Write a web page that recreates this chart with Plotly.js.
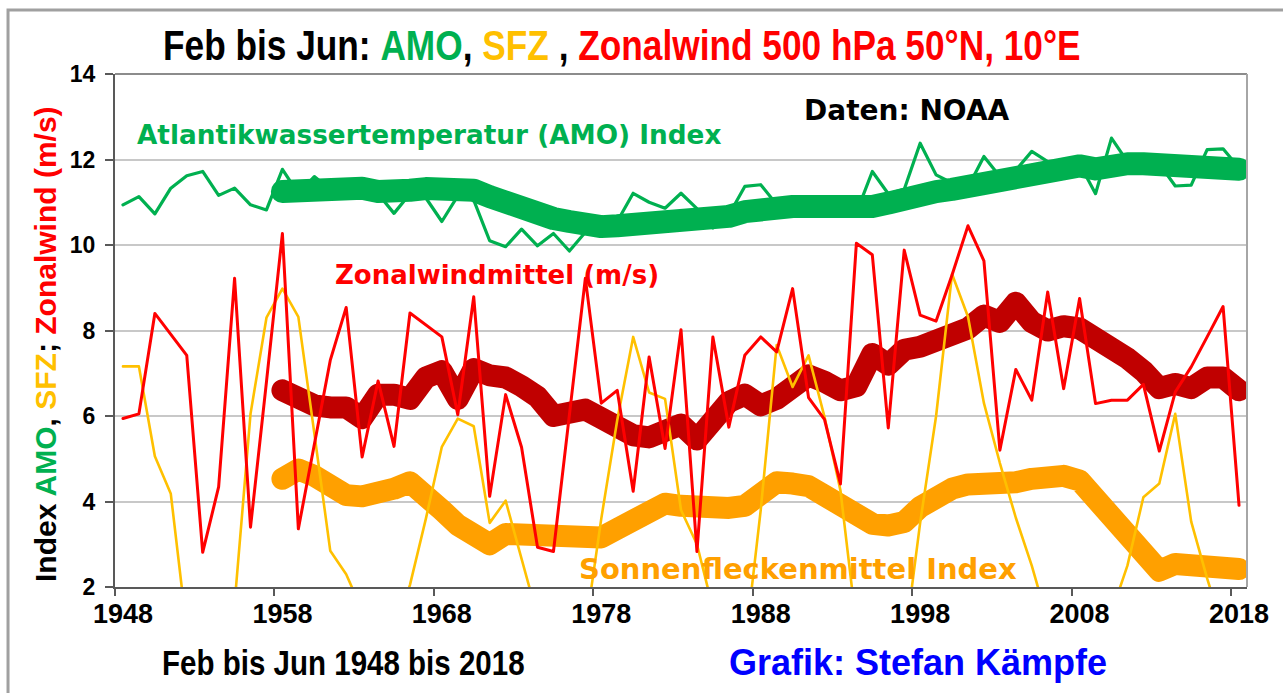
<!DOCTYPE html>
<html>
<head>
<meta charset="utf-8">
<script src="https://cdn.plot.ly/plotly-3.0.1.min.js"></script>
<style>
  html, body { margin: 0; padding: 0; background: #ffffff; }
  #chart { width: 1283px; height: 693px; }
  .scatterlayer .js-line { stroke-linejoin: round; stroke-linecap: round; }
  /* narrow (condensed) lettering like the original */
  .gtitle { transform-box: fill-box; transform-origin: 0% 50%; transform: scaleX(0.82); }
  .annotation[data-index="4"] .annotation-text { transform-box: fill-box; transform-origin: 0% 50%; transform: scaleX(0.82); }
</style>
</head>
<body>
<div id="chart"></div>
<script>
// ---- Data ----
const years = [1948,1949,1950,1951,1952,1953,1954,1955,1956,1957,
  1958,1959,1960,1961,1962,1963,1964,1965,1966,1967,
  1968,1969,1970,1971,1972,1973,1974,1975,1976,1977,
  1978,1979,1980,1981,1982,1983,1984,1985,1986,1987,
  1988,1989,1990,1991,1992,1993,1994,1995,1996,1997,
  1998,1999,2000,2001,2002,2003,2004,2005,2006,2007,
  2008,2009,2010,2011,2012,2013,2014,2015,2016,2017,2018];

// AMO index (thin green)
const amo = [10.94,11.13,10.73,11.33,11.62,11.72,11.16,11.33,10.94,10.82,
  11.77,11.2,11.6,11.3,11.4,11.2,11.2,10.74,11.2,11.1,
  10.55,11.15,11.05,10.1,9.96,10.37,9.98,10.27,9.86,10.3,
  10.4,10.55,11.21,11.0,10.86,11.21,10.85,10.4,10.7,11.37,
  11.41,10.95,10.9,10.95,10.85,10.9,10.75,11.72,11.2,11.3,
  12.38,11.64,11.45,11.35,12.07,11.6,11.75,12.19,11.95,11.95,
  11.9,11.2,12.5,11.95,11.9,11.9,11.38,11.4,12.23,12.25,11.8];

// AMO smoothed (thick green), from 1958
const amoMean = [null,null,null,null,null,null,null,null,null,null,
  11.25,11.28,11.32,11.33,11.36,11.33,11.25,11.2,11.28,11.32,
  11.32,11.28,11.28,11.13,10.98,10.86,10.74,10.62,10.55,10.47,
  10.43,10.45,10.47,10.48,10.55,10.6,10.66,10.64,10.67,10.78,
  10.86,10.9,10.9,10.9,10.9,10.86,10.8,10.9,10.98,11.1,
  11.2,11.25,11.3,11.38,11.45,11.52,11.62,11.72,11.8,11.83,
  11.85,11.78,11.88,11.9,11.9,11.88,11.85,11.82,11.8,11.8,11.77];

// Zonal wind 500 hPa (thin red)
const wind = [5.94,6.05,8.4,7.9,7.42,2.81,4.34,9.22,3.4,6.8,
  10.27,3.36,5.3,7.3,8.54,5.04,6.82,5.29,8.41,8.13,
  7.85,6.03,8.79,4.12,6.5,5.27,2.93,2.83,6.1,9.22,
  6.3,6.6,4.24,7.38,5.24,8.02,2.83,7.85,5.74,7.42,
  7.85,7.5,8.98,6.43,5.92,4.41,10.04,9.77,5.72,9.88,
  8.36,8.22,9.3,10.45,9.63,5.2,7.09,6.37,8.9,6.64,
  8.75,6.29,6.37,6.37,6.74,5.18,6.56,7.15,7.85,8.56,3.91];

// Zonal wind smoothed (thick dark red), from 1958
const windMean = [null,null,null,null,null,null,null,null,null,null,
  6.6,6.4,6.25,6.2,6.2,5.95,6.5,6.5,6.4,6.9,
  7.05,6.4,7.1,6.95,6.9,6.7,6.45,6.0,6.1,6.15,
  5.95,5.75,5.55,5.5,5.65,5.8,5.45,6.0,6.33,6.5,
  6.25,6.4,6.65,6.95,6.8,6.6,6.7,7.45,7.2,7.55,
  7.62,7.73,7.9,8.05,8.35,8.2,8.65,8.2,8.0,8.1,
  8.05,7.85,7.6,7.35,7.05,6.65,6.75,6.65,6.9,6.9,6.6];

// Sunspot index SFZ (thin yellow)
const sfz = [7.16,7.16,5.06,4.18,1.0,0.5,0.4,1.6,6.05,8.3,
  8.98,8.32,5.6,2.85,2.3,1.45,0.5,0.8,2.05,3.6,
  5.28,5.94,5.76,3.5,4.02,2.7,1.3,0.8,0.6,1.0,
  3.6,5.9,7.85,6.55,6.4,3.8,3.0,1.5,0.6,0.55,
  3.8,7.66,6.68,7.42,5.98,4.26,1.1,0.6,0.3,0.6,
  3.5,6.0,9.32,8.32,6.3,4.9,3.62,2.5,1.2,0.6,
  0.3,0.3,1.4,2.5,4.1,4.42,6.05,3.53,2.2,1.0,0.6];

// Sunspot smoothed (thick orange), from 1958
const sfzMean = [null,null,null,null,null,null,null,null,null,null,
  4.53,4.75,4.6,4.38,4.15,4.12,4.15,4.3,4.45,4.2,
  3.8,3.45,3.18,3.0,3.24,3.24,3.24,3.2,3.2,3.13,
  3.16,3.36,3.55,3.71,3.95,3.9,3.85,3.85,3.85,3.9,
  4.18,4.45,4.42,4.36,4.14,3.87,3.65,3.48,3.44,3.52,
  3.87,4.1,4.3,4.4,4.38,4.41,4.45,4.53,4.57,4.6,
  4.49,4.06,3.55,3.05,2.7,2.38,2.54,2.54,2.54,2.46,2.42];

const xTickVals = [1948,1958,1968,1978,1988,1998,2008,2018];
const xTickText = ['1948','1958','1968','1978','1988','1998','2008','2018'];
const xTickMarks = [1947.5,1957.5,1967.5,1977.5,1987.5,1997.5,2007.5,2017.5];
const yTickVals = [2,4,6,8,10,12,14];

// ---- Styles ----
const GREEN = '#00B050', YELLOW = '#FFC000', RED = '#FF0000',
      DARKRED = '#C00000', ORANGE = '#FFA000', BLUE = '#0000FF';
const ARIAL = '"Liberation Sans", Arial, sans-serif';
const HEAVY = '"DejaVu Sans", "Liberation Sans", Arial, sans-serif';

const traces = [
  {x: years, y: sfzMean, mode: 'lines', line: {color: ORANGE, width: 22}, hoverinfo: 'skip'},
  {x: years, y: windMean, mode: 'lines', line: {color: DARKRED, width: 22}, hoverinfo: 'skip'},
  {x: years, y: sfz, mode: 'lines', line: {color: YELLOW, width: 2.6}, hoverinfo: 'skip'},
  {x: years, y: wind, mode: 'lines', line: {color: RED, width: 3}, hoverinfo: 'skip'},
  {x: years, y: amo, mode: 'lines', line: {color: GREEN, width: 3.2}, hoverinfo: 'skip'},
  {x: years, y: amoMean, mode: 'lines', line: {color: GREEN, width: 23}, hoverinfo: 'skip'}
];

const layout = {
  width: 1283, height: 693,
  margin: {l: 115, r: 36, t: 74, b: 106, pad: 0},
  paper_bgcolor: '#ffffff', plot_bgcolor: '#ffffff',
  showlegend: false,
  title: {
    text: 'Feb bis Jun: <span style="color:' + GREEN + '">AMO</span>, <span style="color:' + YELLOW + '">SFZ</span> , <span style="color:' + RED + '">Zonalwind 500 hPa 50°N, 10°E</span>',
    font: {family: ARIAL, size: 43, color: '#000000', weight: 'bold'},
    xref: 'paper', x: (163 - 115) / 1132, xanchor: 'left',
    yref: 'container', y: 0.935, yanchor: 'middle'
  },
  xaxis: {
    range: [1947.5, 2018.5], fixedrange: true,
    tickmode: 'array', tickvals: xTickVals, ticktext: xTickText,
    ticks: '', showgrid: false, zeroline: false,
    showline: true, linecolor: '#595959', linewidth: 2,
    tickfont: {family: ARIAL, size: 27, color: '#000000', weight: 'bold'},
    ticklabelstandoff: 2,
    minor: {tickmode: 'array', tickvals: xTickMarks, ticks: 'outside', ticklen: 7, tickwidth: 2, tickcolor: '#595959', showgrid: false}
  },
  yaxis: {
    range: [2, 14], fixedrange: true,
    tickmode: 'array', tickvals: yTickVals,
    ticks: 'outside', ticklen: 8, tickwidth: 2, tickcolor: '#595959',
    showgrid: true, gridcolor: '#C8C8C8', gridwidth: 2,
    zeroline: false, showline: true, linecolor: '#595959', linewidth: 2,
    tickfont: {family: ARIAL, size: 23, color: '#000000', weight: 'bold'},
    ticklabelstandoff: 5
  },
  shapes: [
    {type: 'line', xref: 'paper', yref: 'paper', x0: 0, x1: 1, y0: 1, y1: 1, line: {color: '#8C8C8C', width: 2}},
    {type: 'line', xref: 'paper', yref: 'paper', x0: 1, x1: 1, y0: 0, y1: 1, line: {color: '#A6A6A6', width: 2}},
    {type: 'rect', xref: 'paper', yref: 'paper', x0: -0.0945, x1: 1.2, y0: -0.3, y1: 1.1248, line: {color: '#A0A0A0', width: 3}}
  ],
  annotations: [
    {text: 'Atlantikwassertemperatur (AMO) Index', xref: 'paper', x: (135 - 115) / 1132, xanchor: 'left', yref: 'y', y: 12.58, yanchor: 'middle', showarrow: false,
     font: {family: HEAVY, size: 26.3, color: GREEN, weight: 'bold'}},
    {text: 'Daten: NOAA', xref: 'paper', x: (802 - 115) / 1132, xanchor: 'left', yref: 'y', y: 13.14, yanchor: 'middle', showarrow: false,
     font: {family: HEAVY, size: 28, color: '#000000', weight: 'bold'}},
    {text: 'Zonalwindmittel (m/s)', xref: 'paper', x: (333 - 115) / 1132, xanchor: 'left', yref: 'y', y: 9.3, yanchor: 'middle', showarrow: false,
     font: {family: HEAVY, size: 26, color: RED, weight: 'bold'}},
    {text: 'Sonnenfleckenmittel Index', xref: 'paper', x: (577 - 115) / 1132, xanchor: 'left', yref: 'y', y: 2.43, yanchor: 'middle', showarrow: false,
     font: {family: HEAVY, size: 29, color: ORANGE, weight: 'bold'}},
    {text: 'Feb bis Jun 1948 bis 2018', xref: 'paper', x: (160 - 115) / 1132, xanchor: 'left', yref: 'paper', y: (587 - 662) / 513, yanchor: 'middle', showarrow: false,
     font: {family: ARIAL, size: 36, color: '#000000', weight: 'bold'}},
    {text: 'Grafik: Stefan Kämpfe', xref: 'paper', x: (727 - 115) / 1132, xanchor: 'left', yref: 'paper', y: (587 - 662) / 513, yanchor: 'middle', showarrow: false,
     font: {family: ARIAL, size: 36, color: BLUE, weight: 'bold'}},
    {text: 'Index <span style="color:' + GREEN + '">AMO</span>, <span style="color:' + YELLOW + '">SFZ</span>; <span style="color:' + RED + '">Zonalwind (m/s)</span>',
     xref: 'paper', x: (45 - 115) / 1132, xanchor: 'center', yref: 'paper', y: (587 - 344) / 513, yanchor: 'middle', textangle: -90, showarrow: false,
     font: {family: ARIAL, size: 30, color: '#000000', weight: 'bold'}}
  ]
};

Plotly.newPlot('chart', traces, layout, {displayModeBar: false, staticPlot: true});
</script>
</body>
</html>
